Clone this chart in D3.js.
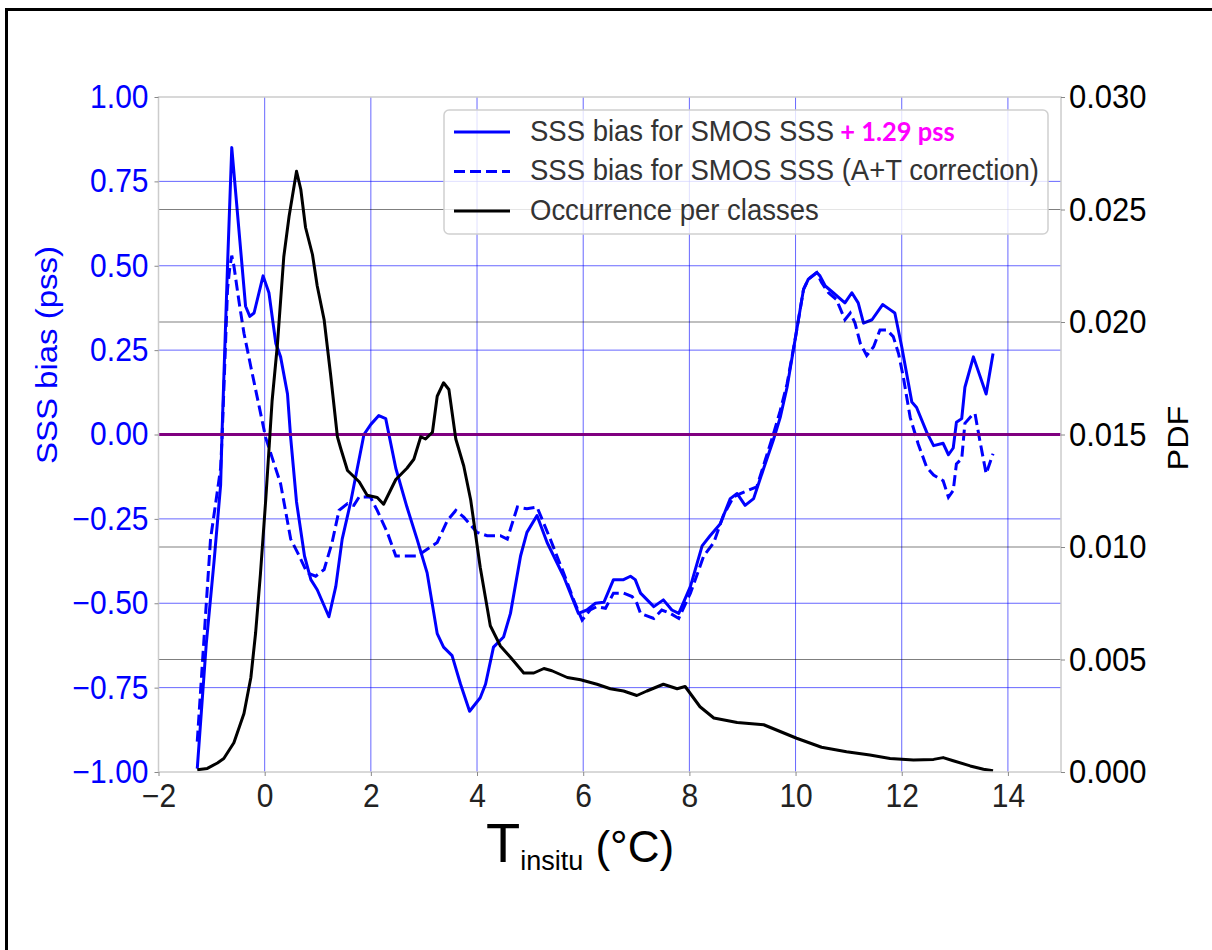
<!DOCTYPE html>
<html lang="en">
<head>
  <meta charset="UTF-8">
  <title>SSS bias vs in-situ temperature</title>
  <style>
    body { margin: 0; background: #fff; }
    svg { display: block; font-family: "Liberation Sans", Arial, sans-serif; }
  </style>
</head>
<body>
  <svg width="1212" height="950"></svg>
  <script src="https://d3js.org/d3.v7.min.js"></script>
  <script>
  // SSS bias for SMOS SSS (+1.29 pss), solid blue
  const tempRaw = [-1.27, -1.1, -0.95, -0.83, -0.8, -0.7, -0.62, -0.36, -0.28, -0.2, -0.03, 0.08, 0.21, 0.3, 0.43, 0.49,
    0.6, 0.75, 0.87, 0.99, 1.21, 1.34, 1.46, 1.62, 1.87, 2.0, 2.15, 2.28, 2.47, 2.68, 2.87, 3.06, 3.25, 3.37, 3.53,
    3.69, 3.86, 4.06, 4.16, 4.31, 4.5, 4.63, 4.82, 4.94, 5.13, 5.32, 5.63, 5.91, 6.07, 6.23, 6.39, 6.57, 6.76, 6.89,
    6.98, 7.08, 7.33, 7.51, 7.67, 7.8, 8.02, 8.24, 8.39, 8.58, 8.77, 8.9, 9.05, 9.21, 9.4, 9.58, 9.71, 9.84, 9.99,
    10.15, 10.24, 10.4, 10.46, 10.56, 10.71, 10.93, 11.06, 11.18, 11.28, 11.44, 11.64, 11.78, 11.87, 12.0, 12.19,
    12.28, 12.47, 12.6, 12.78, 12.88, 12.97, 13.03, 13.13, 13.19, 13.35, 13.59, 13.72];
  const biasRaw = [-0.99, -0.62, -0.37, -0.15, 0.02, 0.5, 0.85, 0.38, 0.35, 0.36, 0.47, 0.42, 0.27, 0.23, 0.12, -0.01,
    -0.2, -0.36, -0.43, -0.46, -0.54, -0.45, -0.31, -0.2, 0.0, 0.03, 0.056, 0.047, -0.1, -0.215, -0.31, -0.41, -0.59,
    -0.63, -0.655, -0.74, -0.82, -0.78, -0.74, -0.63, -0.6, -0.53, -0.36, -0.29, -0.24, -0.32, -0.42, -0.53, -0.52,
    -0.5, -0.497, -0.43, -0.43, -0.42, -0.43, -0.47, -0.51, -0.49, -0.52, -0.53, -0.45, -0.33, -0.3, -0.265, -0.19,
    -0.175, -0.21, -0.19, -0.1, -0.017, 0.05, 0.14, 0.28, 0.43, 0.46, 0.48, 0.47, 0.44, 0.42, 0.39, 0.42, 0.39, 0.33,
    0.34, 0.385, 0.37, 0.36, 0.26, 0.096, 0.08, 0.007, -0.033, -0.026, -0.06, -0.04, 0.036, 0.047, 0.14, 0.23, 0.12, 0.24];

  // SSS bias for SMOS SSS (A+T correction), dashed blue
  const tempAT = [-1.27, -1.02, -0.92, -0.83, -0.8, -0.7, -0.66, -0.62, -0.58, -0.48, -0.39, -0.26, -0.14, 0.02, 0.3,
    0.49, 0.62, 0.8, 0.96, 1.12, 1.27, 1.4, 1.56, 1.68, 1.78, 1.99, 2.12, 2.31, 2.47, 2.62, 2.87, 3.06, 3.25, 3.44,
    3.6, 3.75, 4.0, 4.19, 4.44, 4.57, 4.76, 4.94, 5.13, 5.38, 5.63, 5.82, 5.98, 6.13, 6.26, 6.42, 6.57, 6.76, 6.92,
    7.01, 7.08, 7.33, 7.48, 7.64, 7.8, 8.02, 8.27, 8.46, 8.64, 8.83, 8.96, 9.27, 9.4, 9.58, 9.71, 9.84, 9.99, 10.15,
    10.24, 10.4, 10.49, 10.62, 10.77, 10.93, 11.03, 11.12, 11.22, 11.34, 11.47, 11.59, 11.72, 11.84, 11.94, 12.03,
    12.16, 12.31, 12.47, 12.6, 12.78, 12.88, 12.97, 13.03, 13.13, 13.19, 13.32, 13.38, 13.47, 13.59, 13.72];
  const biasAT = [-0.91, -0.31, -0.2, -0.1, 0.0, 0.43, 0.49, 0.53, 0.5, 0.39, 0.3, 0.2, 0.11, -0.01, -0.146,
    -0.31, -0.35, -0.41, -0.42, -0.4, -0.32, -0.225, -0.205, -0.21, -0.185, -0.185, -0.225, -0.29, -0.36, -0.36,
    -0.36, -0.34, -0.32, -0.255, -0.225, -0.245, -0.29, -0.3, -0.3, -0.31, -0.215, -0.22, -0.215, -0.31, -0.41,
    -0.49, -0.55, -0.52, -0.51, -0.515, -0.47, -0.47, -0.48, -0.5, -0.53, -0.545, -0.52, -0.53, -0.545, -0.47, -0.36,
    -0.32, -0.24, -0.185, -0.175, -0.155, -0.09, 0.0, 0.07, 0.15, 0.28, 0.43, 0.46, 0.48, 0.45, 0.42, 0.4, 0.34,
    0.36, 0.33, 0.27, 0.234, 0.26, 0.31, 0.31, 0.29, 0.24, 0.17, 0.05, -0.028, -0.097, -0.12, -0.137, -0.186,
    -0.166, -0.087, -0.072, 0.033, 0.056, 0.062, -0.017, -0.116, -0.057];

  // Occurrence per classes (PDF, right axis), black
  const tempPdf = [-1.27, -1.08, -0.89, -0.77, -0.58, -0.39, -0.26, -0.17, -0.08, 0.02, 0.08, 0.14, 0.24, 0.36, 0.46,
    0.6, 0.68, 0.77, 0.9, 0.99, 1.12, 1.24, 1.37, 1.43, 1.56, 1.78, 1.93, 2.12, 2.24, 2.47, 2.68, 2.81, 2.94, 3.03,
    3.16, 3.25, 3.37, 3.47, 3.6, 3.75, 3.88, 4.06, 4.25, 4.44, 4.63, 4.88, 5.07, 5.26, 5.41, 5.7, 5.95, 6.26, 6.51,
    6.76, 7.01, 7.2, 7.51, 7.77, 7.92, 8.2, 8.46, 8.9, 9.4, 9.71, 10.02, 10.49, 10.96, 11.4, 11.78, 12.22, 12.6,
    12.78, 12.97, 13.29, 13.54, 13.72];
  const pdf = [0.0001, 0.00016, 0.0004, 0.0006, 0.0013, 0.0026, 0.0042, 0.0062, 0.0088, 0.0121, 0.0143, 0.0165,
    0.019, 0.0229, 0.0247, 0.0267, 0.0259, 0.0242, 0.023, 0.0216, 0.0201, 0.0177, 0.0149, 0.0144, 0.0134, 0.0129,
    0.0123, 0.0122, 0.0119, 0.013, 0.0135, 0.0139, 0.0149, 0.0148, 0.0151, 0.0167, 0.0173, 0.017, 0.0148, 0.0136,
    0.0121, 0.0091, 0.0065, 0.0056, 0.0051, 0.0044, 0.0044, 0.0046, 0.0045, 0.0042, 0.0041, 0.0039, 0.0037, 0.0036,
    0.0034, 0.0036, 0.0039, 0.0037, 0.0038, 0.0029, 0.0024, 0.0022, 0.0021, 0.0018, 0.0015, 0.0011, 0.0009, 0.00076,
    0.0006, 0.00053, 0.00056, 0.00064, 0.0005, 0.00027, 0.00012, 0.00006];

  const xTicks = [-2, 0, 2, 4, 6, 8, 10, 12, 14];
  const biasTicks = [-1, -0.75, -0.5, -0.25, 0, 0.25, 0.5, 0.75, 1];
  const pdfTicks = [0, 0.005, 0.01, 0.015, 0.02, 0.025, 0.03];
  const legendLabels = ["SSS bias for SMOS SSS", "SSS bias for SMOS SSS (A+T correction)", "Occurrence per classes"];

  const svg = d3.select("svg");
  const plotL = 158.5, plotR = 1061, plotT = 97, plotB = 772;

  const x = d3.scaleLinear().domain([-2, 15]).range([plotL, plotR]);
  const yL = d3.scaleLinear().domain([-1, 1]).range([plotB, plotT]);
  const yR = d3.scaleLinear().domain([0, 0.03]).range([plotB, plotT]);

  // frame around the figure (only top/left visible in the original crop)
  svg.append("rect")
    .attr("x", 6.5).attr("y", 9.5).attr("width", 1230).attr("height", 960)
    .attr("fill", "none").attr("stroke", "#000").attr("stroke-width", 3);

  // blue grid (left axis)
  const gridL = svg.append("g");
  gridL.selectAll("line.v").data(xTicks.slice(1)).join("line")
    .attr("x1", d => x(d)).attr("x2", d => x(d)).attr("y1", plotT).attr("y2", plotB)
    .attr("stroke", "#0000ff").attr("stroke-opacity", 0.6).attr("stroke-width", 1);
  gridL.selectAll("line.h").data(biasTicks.filter(d => d !== 0 && Math.abs(d) !== 1)).join("line")
    .attr("x1", plotL).attr("x2", plotR).attr("y1", d => yL(d)).attr("y2", d => yL(d))
    .attr("stroke", "#0000ff").attr("stroke-opacity", 0.6).attr("stroke-width", 1);

  const biasLine = d3.line().x(d => x(d[0])).y(d => yL(d[1]));
  const pdfLine = d3.line().x(d => x(d[0])).y(d => yR(d[1]));

  svg.append("path")
    .datum(tempRaw.map((t, i) => [t, biasRaw[i]]))
    .attr("d", biasLine).attr("fill", "none")
    .attr("stroke", "#0000ff").attr("stroke-width", 3).attr("stroke-linejoin", "round");

  svg.append("path")
    .datum(tempAT.map((t, i) => [t, biasAT[i]]))
    .attr("d", biasLine).attr("fill", "none")
    .attr("stroke", "#0000ff").attr("stroke-width", 3)
    .attr("stroke-dasharray", "11,5");

  // zero line
  svg.append("line")
    .attr("x1", plotL).attr("x2", plotR).attr("y1", yL(0)).attr("y2", yL(0))
    .attr("stroke", "#800080").attr("stroke-width", 3);

  // grey grid (right axis)
  svg.append("g").selectAll("line").data(pdfTicks.filter(d => d > 0 && d < 0.03 && d !== 0.015)).join("line")
    .attr("x1", plotL).attr("x2", plotR).attr("y1", d => yR(d)).attr("y2", d => yR(d))
    .attr("stroke", "#000").attr("stroke-opacity", 0.5).attr("stroke-width", 1.2);

  svg.append("path")
    .datum(tempPdf.map((t, i) => [t, pdf[i]]))
    .attr("d", pdfLine).attr("fill", "none")
    .attr("stroke", "#000").attr("stroke-width", 3).attr("stroke-linejoin", "round");

  // spines
  svg.append("rect")
    .attr("x", plotL).attr("y", plotT).attr("width", plotR - plotL).attr("height", plotB - plotT)
    .attr("fill", "none").attr("stroke", "#cccccc").attr("stroke-width", 1.5);

  // axes
  const xAxis = svg.append("g").attr("transform", `translate(0,${plotB})`)
    .call(d3.axisBottom(x).tickValues(xTicks).tickSize(4).tickPadding(7).tickFormat(d3.format("d")));
  const lAxis = svg.append("g").attr("transform", `translate(${plotL},0)`)
    .call(d3.axisLeft(yL).tickValues(biasTicks).tickSize(4).tickPadding(6).tickFormat(d3.format(".2f")));
  const rAxis = svg.append("g").attr("transform", `translate(${plotR},0)`)
    .call(d3.axisRight(yR).tickValues(pdfTicks).tickSize(4).tickPadding(4).tickFormat(d3.format(".3f")));

  // the original figure is slightly stretched vertically, so stretch the glyphs a little
  [xAxis, lAxis, rAxis].forEach(a => {
    a.select(".domain").remove();
    a.selectAll(".tick line").attr("stroke", "#888");
    a.selectAll("text").attr("font-family", "Liberation Sans, Arial, sans-serif").attr("font-size", 30)
      .attr("transform", "scale(1,1.08)");
  });
  xAxis.selectAll("text").attr("fill", "#222");
  lAxis.selectAll("text").attr("fill", "#0000ff");
  rAxis.selectAll("text").attr("fill", "#000").attr("font-size", 31);

  // axis titles
  svg.append("text")
    .attr("transform", "translate(57,355) rotate(-90) scale(1.1,1)")
    .attr("text-anchor", "middle").attr("font-size", 30).attr("fill", "#0000ff")
    .text("SSS bias (pss)");

  svg.append("text")
    .attr("transform", "translate(1188,438) rotate(-90) scale(1.08,1)")
    .attr("text-anchor", "middle").attr("font-size", 30).attr("fill", "#000")
    .text("PDF");

  const xlab = svg.append("text").attr("x", 580).attr("y", 862).attr("text-anchor", "middle").attr("fill", "#000");
  xlab.append("tspan").attr("font-size", 56).text("T");
  xlab.append("tspan").attr("font-size", 27).attr("dy", 8).text("insitu");
  xlab.append("tspan").attr("font-size", 44).attr("dy", -8).text(" (°C)");

  // legend
  const lg = svg.append("g").attr("transform", "translate(444,110)");
  lg.append("rect").attr("width", 604).attr("height", 124).attr("rx", 5)
    .attr("fill", "#fff").attr("fill-opacity", 0.8).attr("stroke", "#d0d0d0").attr("stroke-width", 1.5);
  const rows = [
    { dash: null, color: "#0000ff" },
    { dash: "11,5", color: "#0000ff" },
    { dash: null, color: "#000" }
  ];
  rows.forEach((r, i) => {
    const yy = 22 + i * 39.5;
    lg.append("line").attr("x1", 10).attr("x2", 66).attr("y1", yy).attr("y2", yy)
      .attr("stroke", r.color).attr("stroke-width", 3).attr("stroke-dasharray", r.dash);
    const t = lg.append("text").attr("x", 86).attr("y", yy + 9).attr("font-size", 27.5).attr("fill", "#333")
      .attr("transform", `translate(0,${yy + 9}) scale(1,1.06) translate(0,${-(yy + 9)})`)
      .text(legendLabels[i]);
    if (i === 0) {
      t.append("tspan").attr("font-family", "Lato, 'Open Sans', sans-serif").attr("font-weight", "bold")
        .attr("font-size", 25.5).attr("fill", "#ff00ff").text(" + 1.29 pss");
    }
  });
  </script>
</body>
</html>
